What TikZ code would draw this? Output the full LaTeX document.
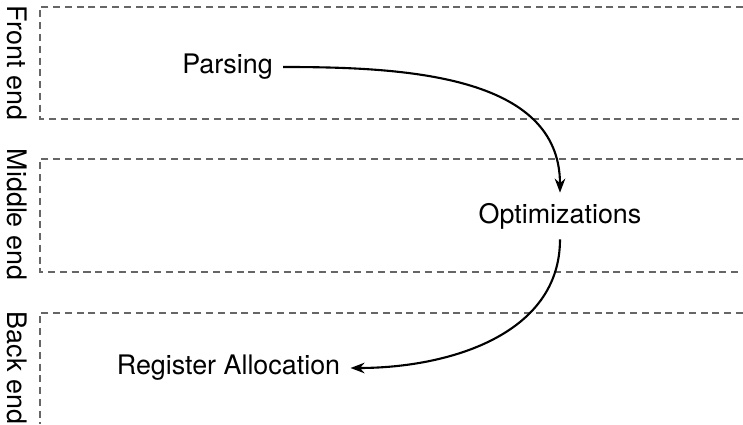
\documentclass[tikz,border=0pt]{standalone}
\usepackage{fontspec}
\setmainfont{TeX Gyre Heros}
\usepackage{tikz}
\usetikzlibrary{arrows.meta}

\begin{document}
\begin{tikzpicture}[scale=1,
      layer/.style={draw=black!60,line width=0.6pt,dash pattern=on 4pt off 2.7pt},
      stage/.style={inner sep=0.2cm,font=\fontsize{15.3}{18}\selectfont},
      side/.style={rotate=-90,font=\fontsize{15.3}{18}\selectfont},
      flow/.style={line width=1.2pt,-{Stealth[length=8pt,width=6pt]}}]
      
      \useasboundingbox (0,0) rectangle (14.86,8.48);
      
      %三层虚线框
      \draw[layer] (14.86,8.34) -- (0.8,8.34) -- (0.8,6.10) -- (14.86,6.10);
      \draw[layer] (14.86,5.30) -- (0.8,5.30) -- (0.8,3.04) -- (14.86,3.04);
      \draw[layer] (14.86,2.22) -- (0.8,2.22) -- (0.8,0);
      
      \node[side] (front) at (0.35,7.22) {Front end};
      \node[side] (middle) at (0.35,4.19) {Middle end};
      \node[side] (back) at (0.35,1.12) {Back end};
      
      %各阶段
      \node[stage] (parsing) at (4.55,7.14) {Parsing};
      \node[stage] (opt) at (11.2,4.16) {Optimizations};
      \node[stage] (regalloc) at (4.57,1.12) {Register Allocation};
      
      \draw[flow] (parsing) to[out=0,in=90] (opt);
      \draw[flow] (opt) to[out=-90,in=0] (regalloc);
      
\end{tikzpicture}
\end{document}
